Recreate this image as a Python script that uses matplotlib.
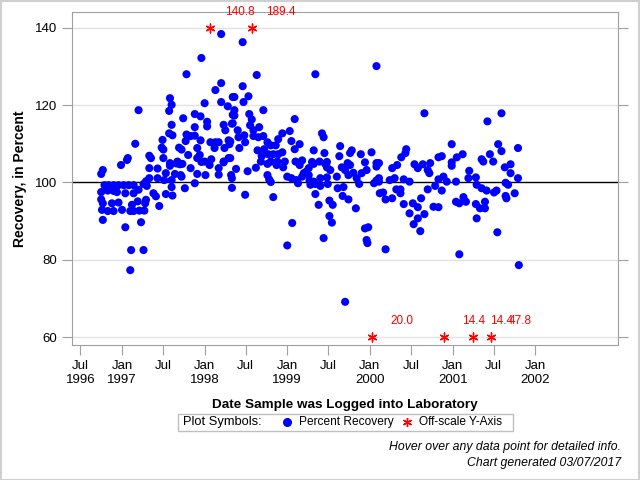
import matplotlib
matplotlib.use("Agg")
import matplotlib.pyplot as plt
from matplotlib.patches import Rectangle
import pandas as pd

plt.rcParams['font.family'] = ['Liberation Sans', 'DejaVu Sans']

# Datas de registro (ano decimal) e recuperação em %
logged_year = [
    1996.77, 1996.75, 1996.75, 1996.75, 1996.77, 1996.76, 1996.77,
    1996.79, 1996.84, 1996.90, 1996.96, 1997.02, 1997.08, 1997.14,
    1996.83, 1996.90, 1996.94, 1997.04, 1997.14, 1997.20,
    1996.88, 1996.96, 1997.12, 1997.19, 1997.29, 1997.28,
    1996.83, 1996.90, 1997.00, 1997.10, 1997.14, 1997.21, 1997.27, 1997.45,
    1997.04, 1997.23, 1997.11, 1997.26, 1997.10,
    1997.29, 1997.30, 1997.26, 1997.33, 1997.43, 1997.33, 1997.43,
    1997.38, 1997.41, 1997.53, 1997.61,
    1997.51, 1997.60, 1997.60, 1997.76,
    1997.53, 1997.64, 1997.71, 1997.72, 1997.91, 1998.01, 1998.17, 1997.88,
    1997.58, 1997.66, 1997.73, 1997.83, 1997.96, 1998.06, 1998.17, 1998.23, 1998.32, 1998.33,
    1996.99, 1997.06,
    1997.07, 1997.33, 1997.35, 1997.50, 1997.80, 1997.94, 1997.91, 1998.08, 1998.29,
    1997.58, 1997.67, 1997.70, 1998.00, 1998.23,
    1997.16, 1997.48, 1997.50, 1997.69, 1997.72, 1997.91, 1998.07, 1998.13, 1998.17,
    1998.12, 1998.24, 1998.29, 1998.30,
    1997.49, 1997.57, 1997.61, 1997.78, 1997.83, 1997.88, 1997.95, 1997.77,
    1997.60, 1997.88, 1998.23, 1998.25, 1998.33,
    1997.74, 1997.88, 1997.95, 1998.03, 1998.03, 1998.34,
    1997.57, 1997.20, 1998.00, 1998.20, 1998.28,
    1997.58, 1997.60, 1998.34, 1998.13, 1998.20,
    1997.78, 1997.96, 1998.20,
    1998.46, 1998.63, 1999.34, 2000.08,
    1998.46, 1998.36, 1998.53, 1998.47, 1998.71, 1998.36, 1998.36, 1998.54, 1998.57, 1999.09,
    1998.34, 1998.55, 1998.66, 1998.40, 1998.59, 1999.03, 1998.94, 1999.42, 1999.44,
    1998.48, 1998.41, 1998.59, 1998.65, 1998.71, 1998.89, 1999.05, 1999.15,
    1998.49, 1998.31, 1998.76, 1998.80, 1998.86, 1998.42, 1998.64, 1998.72, 1999.09,
    1999.32, 1999.64, 1999.78, 1999.89, 2000.02, 1999.45, 1999.63, 1999.76,
    1998.69, 1998.77, 1998.83, 1998.89, 1998.94, 1998.31,
    1998.68, 1998.80, 1998.88, 1998.97, 1999.10, 1999.18, 1999.30, 1999.39, 1999.48,
    1999.73, 1999.94, 2000.08,
    1998.38, 1998.52, 1998.62, 1998.76, 1998.87, 1998.95, 1999.15, 1999.26, 1999.32,
    1999.46, 1999.48, 1999.52, 1999.66, 1999.70, 1999.76, 2000.08,
    1998.33, 1998.76, 1998.78, 1998.80, 1999.00, 1999.05, 1999.11, 1999.13, 1999.18,
    1999.20, 1999.23, 1999.26, 1999.27, 1999.28, 1999.32, 1999.34, 1999.40, 1999.40,
    1999.48, 1999.49, 1999.60, 1999.61, 1999.68, 1999.74, 1999.80, 1999.84, 1999.87,
    1999.90, 1999.96, 2000.05, 2000.08,
    1998.49, 1998.83, 1999.34, 1999.38, 1999.51, 1999.55, 1999.67, 1999.74, 1999.83,
    1999.51, 1999.54, 1999.06, 1999.44, 1999.00, 1999.94, 1999.98, 1999.96, 1999.97,
    1999.70, 2000.12,
    2000.66, 2001.59, 2001.42, 2000.99, 2001.55, 2001.79, 2000.44, 2000.43, 2000.38,
    2000.83, 2000.87, 2001.05, 2001.12, 2001.59, 2001.45, 2001.35, 2001.37, 2001.49,
    2000.99, 2000.73, 2000.11, 2000.54, 2000.64, 2001.70, 2000.33,
    2000.27, 2000.58, 2000.70, 2000.72, 2000.99, 2001.20, 2001.63, 2001.70, 2001.79,
    2000.11, 2000.11, 2000.24, 2000.30, 2000.41, 2000.48, 2000.37, 2000.32, 2000.16,
    2000.19, 2000.27, 2000.37, 2000.70, 2000.79, 2000.83, 2000.87, 2000.89, 2000.93,
    2001.04, 2001.19, 2001.28, 2001.29, 2001.35, 2001.41, 2001.50, 2001.53, 2001.64,
    2001.67, 2001.64, 2001.65, 2001.75,
    2000.41, 2000.52, 2000.58, 2000.62, 2000.48, 2000.53, 2000.58, 2000.61, 2000.66,
    2000.77, 2000.83, 2001.04, 2001.08, 2001.13, 2001.16, 2001.28, 2001.33, 2001.39,
    2001.39, 2001.29, 2001.54, 2000.19, 2001.08, 2001.80,
]
recovery = [
    103.2, 102.2, 97.5, 95.6, 94.6, 92.9, 90.3,
    99.3, 99.3, 99.3, 99.3, 99.3, 99.3, 99.3,
    97.9, 97.8, 97.5, 97.2, 97.2, 98.1,
    94.6, 94.8, 94.2, 95.1, 95.5, 94.6,
    92.6, 92.6, 92.9, 92.6, 92.6, 92.7, 92.7, 93.9,
    88.4, 89.7, 82.5, 82.5, 77.3,
    100.3, 99.1, 99.6, 101.1, 101.1, 103.7, 103.6,
    97.2, 96.4, 97.0, 96.6,
    100.6, 100.6, 98.8, 98.5,
    102.4, 102.2, 101.9, 101.5, 102.2, 101.9, 102.0, 99.8,
    104.3, 104.9, 104.8, 103.7, 105.3, 104.5, 103.7, 105.2, 101.9, 98.6,
    104.5, 105.8,
    106.3, 106.9, 106.3, 106.3, 107.1, 107.1, 106.3, 106.0, 106.3,
    105.0, 105.4, 104.7, 105.4, 105.4,
    110.0, 109.0, 108.5, 109.0, 108.5, 108.9, 110.4, 110.4, 110.4,
    108.9, 108.9, 110.9, 109.9,
    111.0, 112.7, 112.2, 112.4, 112.0, 112.1, 110.9, 110.7,
    114.9, 114.3, 114.9, 113.5, 115.2,
    116.6, 117.7, 117.1, 115.7, 114.5, 117.5,
    118.5, 118.7, 120.5, 120.8, 119.7,
    121.8, 120.1, 122.1, 123.9, 125.7,
    128.0, 132.2, 138.4,
    136.3, 127.8, 128.0, 130.1,
    124.9, 122.1, 122.3, 120.8, 118.7, 118.7, 117.3, 117.7, 116.3, 116.4,
    115.3, 114.8, 114.3, 113.5, 113.5, 113.3, 112.7, 112.7, 111.7,
    112.2, 111.7, 112.0, 111.7, 112.0, 111.2, 110.7, 109.9,
    110.4, 110.6, 110.4, 109.6, 109.6, 108.9, 108.3, 108.6, 108.6,
    108.3, 109.4, 108.3, 107.3, 107.8, 107.6, 106.8, 107.6,
    106.8, 107.3, 107.3, 107.3, 107.8, 106.3,
    105.4, 105.4, 105.4, 105.4, 105.4, 105.7, 105.3, 105.4, 105.3,
    105.0, 105.2, 105.0,
    103.5, 102.9, 103.8, 104.8, 104.5, 103.9, 104.5, 103.7, 104.8,
    104.8, 103.9, 103.2, 103.9, 103.2, 104.5, 104.1,
    101.1, 101.9, 100.8, 100.1, 101.5, 101.1, 100.6, 99.8, 101.5,
    102.4, 102.8, 101.9, 100.5, 99.4, 100.2, 99.6, 101.1, 99.1,
    101.3, 99.6, 101.5, 98.5, 98.8, 101.9, 102.5, 101.1, 99.6,
    102.4, 103.2, 99.8, 100.5,
    96.8, 96.2, 97.0, 94.2, 95.3, 94.2, 96.5, 95.6, 93.3,
    91.3, 89.6, 89.5, 85.6, 83.7, 88.1, 88.4, 85.1, 84.3,
    69.1, 97.2,
    117.9, 117.9, 115.8, 109.9, 109.9, 108.9, 108.6, 107.6, 106.5,
    106.5, 106.8, 106.5, 107.3, 108.1, 107.3, 106.0, 105.4, 105.4,
    105.2, 105.0, 105.0, 104.7, 104.7, 104.7, 104.5,
    103.7, 103.7, 103.2, 102.4, 104.3, 103.0, 103.9, 102.4, 101.1,
    101.1, 100.2, 100.6, 101.1, 100.8, 100.2, 98.2, 98.2, 97.4,
    95.6, 95.9, 97.2, 98.2, 99.1, 100.8, 97.9, 101.5, 100.2,
    100.2, 101.1, 101.3, 99.4, 98.5, 97.9, 97.4, 97.9, 99.9,
    99.4, 96.5, 95.9, 97.2,
    94.4, 94.6, 93.6, 95.9, 92.0, 89.2, 90.7, 87.4, 91.8,
    93.7, 93.6, 95.0, 94.6, 96.2, 95.0, 94.4, 93.3, 93.3,
    95.0, 90.7, 87.1, 82.7, 81.4, 78.6,
]

# Pontos fora da escala (valor real mostrado como texto)
off_year = [1998.07, 1998.57, 2000.03, 2000.90, 2001.24, 2001.46]
off_value = [140.8, 189.4, 20.0, 14.4, 14.4, 47.8]

tick_dates = ['1996-07-01', '1997-01-01', '1997-07-01', '1998-01-01', '1998-07-01',
              '1999-01-01', '1999-07-01', '2000-01-01', '2000-07-01', '2001-01-01',
              '2001-07-01', '2002-01-01']
tick_labels = ['Jul\n1996', 'Jan\n1997', 'Jul', 'Jan\n1998', 'Jul', 'Jan\n1999', 'Jul',
               'Jan\n2000', 'Jul', 'Jan\n2001', 'Jul', 'Jan\n2002']


def to_date(y):
    yr = int(y)
    return pd.Timestamp(year=yr, month=1, day=1) + pd.Timedelta(days=(y - yr) * 365.25)


dates = [to_date(v) for v in logged_year]
off_dates = [to_date(v) for v in off_year]
off_y = [140 if v > 140 else 60 for v in off_value]

fig = plt.figure(figsize=(6.4, 4.8), dpi=100)
fig.patches.append(Rectangle((0.001, 0.001), 0.997, 0.997, transform=fig.transFigure,
                             fill=False, edgecolor='#d0d0d0', lw=1.5))
ax = fig.add_axes([0.1125, 0.281, 0.853, 0.694])

for v in [60, 80, 120, 140]:
    ax.axhline(v, color='#e2e2e2', lw=1, zorder=0)
ax.axhline(100, color='black', lw=1, zorder=1)

ax.scatter(dates, recovery, s=34, color='#0000ff', edgecolors='none', zorder=3)
ax.scatter(off_dates, off_y, marker=(6, 2, 0), s=40, color='red', lw=1, zorder=3)
for d, y, v in zip(off_dates, off_y, off_value):
    ax.annotate('%.1f' % v, (d, y), xytext=(21, 7), textcoords='offset points',
                ha='center', va='bottom', color='red', fontsize=8.5)

ax.set_xlim(pd.Timestamp('1996-05-25'), pd.Timestamp('2003-01-01'))
ax.set_ylim(57.9, 144.1)
ax.set_xticks([pd.Timestamp(t) for t in tick_dates])
ax.set_xticklabels(tick_labels, fontsize=9.5)
ax.set_yticks([60, 80, 100, 120, 140])
ax.tick_params(axis='y', labelsize=9.5, right=True, length=7, color='#a0a0a0')
ax.tick_params(axis='x', length=7, color='#a0a0a0', pad=4)
for s in ax.spines.values():
    s.set_color('#a0a0a0')

ax.set_xlabel('Date Sample was Logged into Laboratory', fontsize=9.7, fontweight='bold', labelpad=9)
ax.set_ylabel('Recovery, in Percent', fontsize=10, fontweight='bold', labelpad=6)

# legenda manual
fig.patches.append(Rectangle((0.278, 0.1021), 0.523, 0.0354, transform=fig.transFigure,
                             fill=False, edgecolor='#c0c0c0', lw=1))
fig.text(0.286, 0.1198, 'Plot Symbols:', fontsize=9.3, va='center')
fig.lines.append(plt.Line2D([0.448], [0.1198], marker='o', color='#0000ff', markersize=5.5,
                            linestyle='none', transform=fig.transFigure))
fig.text(0.467, 0.1198, 'Percent Recovery', fontsize=8.6, va='center')
fig.lines.append(plt.Line2D([0.636], [0.1198], marker=(6, 2, 0), color='red', markersize=6.5,
                            linestyle='none', transform=fig.transFigure))
fig.text(0.654, 0.1198, 'Off-scale Y-Axis', fontsize=8.6, va='center')

fig.text(0.970, 0.069, 'Hover over any data point for detailed info.', fontsize=8.8,
         style='italic', ha='right', va='center')
fig.text(0.970, 0.035, 'Chart generated 03/07/2017', fontsize=8.8,
         style='italic', ha='right', va='center')

fig.savefig('out.png', dpi=100)
